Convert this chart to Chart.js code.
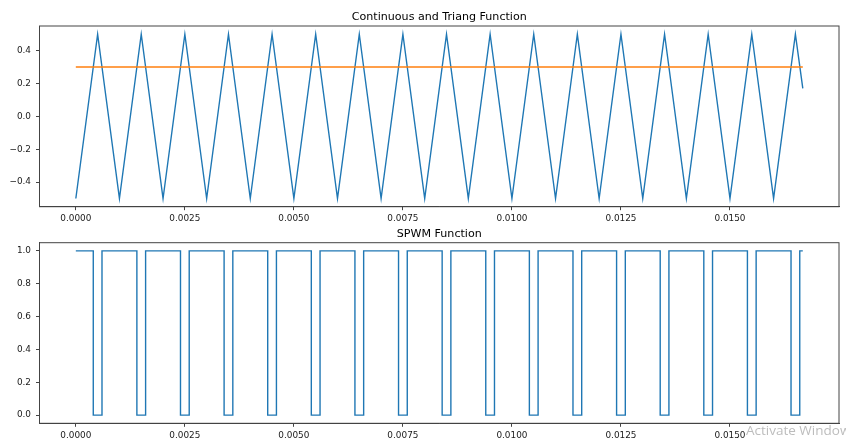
<!DOCTYPE html>
<html>
<head>
<meta charset="utf-8">
<script src="https://cdn.jsdelivr.net/npm/chart.js@4"></script>
<style>
  html, body { margin: 0; padding: 0; background: #fff; }
  #wrap { position: relative; width: 846px; height: 443px; overflow: hidden; background: #fff; }
  canvas { position: absolute; left: 0; top: 0; }
  #wm { position: absolute; left: 746px; top: 421px; font-family: "Open Sans", "Noto Sans", sans-serif; font-size: 13.5px; color: #bdbdbd; white-space: nowrap; }
</style>
</head>
<body>
<div id="wrap">
  <canvas id="c1" width="846" height="443"></canvas>
  <canvas id="c2" width="846" height="443"></canvas>
  <div id="wm">Activate Windows</div>
</div>
<script>
// ---- Data ----
const titleTop = "Continuous and Triang Function";
const titleBottom = "SPWM Function";

// Triangular carrier: vertex times (s) and values
const triTimes = [0, 0.0005, 0.001, 0.0015, 0.002, 0.0025, 0.003, 0.0035, 0.004, 0.0045,
  0.005, 0.0055, 0.006, 0.0065, 0.007, 0.0075, 0.008, 0.0085, 0.009, 0.0095,
  0.01, 0.0105, 0.011, 0.0115, 0.012, 0.0125, 0.013, 0.0135, 0.014, 0.0145,
  0.015, 0.0155, 0.016, 0.0165, 0.01667];
const triValues = [-0.5, 0.5, -0.5, 0.5, -0.5, 0.5, -0.5, 0.5, -0.5, 0.5,
  -0.5, 0.5, -0.5, 0.5, -0.5, 0.5, -0.5, 0.5, -0.5, 0.5,
  -0.5, 0.5, -0.5, 0.5, -0.5, 0.5, -0.5, 0.5, -0.5, 0.5,
  -0.5, 0.5, -0.5, 0.5, 0.17];

// Continuous reference level
const refTimes = [0, 0.01667];
const refValues = [0.3, 0.3];

// SPWM output: transition times and new level after each transition
const spwmTimes = [0,
  0.0004, 0.0006, 0.0014, 0.0016, 0.0024, 0.0026, 0.0034, 0.0036,
  0.0044, 0.0046, 0.0054, 0.0056, 0.0064, 0.0066, 0.0074, 0.0076,
  0.0084, 0.0086, 0.0094, 0.0096, 0.0104, 0.0106, 0.0114, 0.0116,
  0.0124, 0.0126, 0.0134, 0.0136, 0.0144, 0.0146, 0.0154, 0.0156,
  0.0164, 0.0166, 0.01667];
const spwmValues = [1,
  0, 1, 0, 1, 0, 1, 0, 1,
  0, 1, 0, 1, 0, 1, 0, 1,
  0, 1, 0, 1, 0, 1, 0, 1,
  0, 1, 0, 1, 0, 1, 0, 1,
  0, 1, 1];

// Tick values and labels
const xTickValues = [0, 0.0025, 0.005, 0.0075, 0.01, 0.0125, 0.015];
const xTickLabels = ["0.0000", "0.0025", "0.0050", "0.0075", "0.0100", "0.0125", "0.0150"];
const yTopTickValues = [-0.4, -0.2, 0.0, 0.2, 0.4];
const yTopTickLabels = ["\u22120.4", "\u22120.2", "0.0", "0.2", "0.4"];
const yBotTickValues = [0.0, 0.2, 0.4, 0.6, 0.8, 1.0];
const yBotTickLabels = ["0.0", "0.2", "0.4", "0.6", "0.8", "1.0"];

// ---- Styling / helpers ----
const BLUE = "#1f77b4", ORANGE = "#ff7f0e";
const TICK_FONT = { family: "DejaVu Sans", size: 8.9 };
const TITLE_FONT = { family: "DejaVu Sans", size: 11.1, weight: "normal" };
const AX_COLOR = "#444";
const LBL_COLOR = "#1a1a1a";

function pts(xs, ys) { return xs.map((x, i) => ({ x: x, y: ys[i] })); }

const framePlugin = {
  id: "frame",
  afterDraw(chart) {
    const a = chart.chartArea, ctx = chart.ctx;
    ctx.save();
    ctx.strokeStyle = AX_COLOR;
    ctx.lineWidth = 1;
    ctx.strokeRect(a.left, a.top, a.right - a.left, a.bottom - a.top);
    ctx.restore();
  }
};

function xScale(h) {
  return {
    type: "linear",
    min: -0.000833,
    max: 0.0175,
    afterBuildTicks(s) { s.ticks = xTickValues.map(v => ({ value: v })); },
    afterFit(s) { s.height = h; },
    ticks: {
      font: TICK_FONT, color: LBL_COLOR, padding: 3.5, maxRotation: 0, autoSkip: false,
      callback: (v, i) => xTickLabels[i]
    },
    grid: { display: true, drawOnChartArea: false, drawTicks: true, tickLength: 3.5, tickColor: AX_COLOR, tickWidth: 1 },
    border: { display: true, color: AX_COLOR, width: 1 }
  };
}
function yScale(min, max, vals, labels) {
  return {
    type: "linear",
    min: min, max: max,
    afterBuildTicks(s) { s.ticks = vals.map(v => ({ value: v })); },
    afterFit(s) { s.width = 39.5; },
    ticks: {
      font: TICK_FONT, color: LBL_COLOR, padding: 5, autoSkip: false,
      callback: (v, i) => labels[i]
    },
    grid: { display: true, drawOnChartArea: false, drawTicks: true, tickLength: 3.5, tickColor: AX_COLOR, tickWidth: 1 },
    border: { display: true, color: AX_COLOR, width: 1 }
  };
}

const common = {
  responsive: false,
  animation: false,
  devicePixelRatio: 1,
  events: [],
  elements: { point: { radius: 0 }, line: { tension: 0 } }
};

new Chart(document.getElementById("c1"), {
  type: "line",
  data: {
    datasets: [
      { data: pts(triTimes, triValues), borderColor: BLUE, borderWidth: 1.4, fill: false, order: 1 },
      { data: pts(refTimes, refValues), borderColor: ORANGE, borderWidth: 1.4, fill: false, order: 0 }
    ]
  },
  options: Object.assign({}, common, {
    layout: { padding: { left: 0, right: 7, top: 0, bottom: 216.3 } },
    plugins: {
      legend: { display: false },
      tooltip: { enabled: false },
      title: { display: true, fullSize: false, text: titleTop, font: TITLE_FONT, color: "#000", padding: { top: 10.5, bottom: 2.18 } }
    },
    scales: { x: xScale(20), y: yScale(-0.55, 0.55, yTopTickValues, yTopTickLabels) }
  }),
  plugins: [framePlugin]
});

new Chart(document.getElementById("c2"), {
  type: "line",
  data: {
    datasets: [
      { data: pts(spwmTimes, spwmValues), borderColor: BLUE, borderWidth: 1.4, fill: false, stepped: true }
    ]
  },
  options: Object.assign({}, common, {
    layout: { padding: { left: 0, right: 7, top: 216.6, bottom: 0 } },
    plugins: {
      legend: { display: false },
      tooltip: { enabled: false },
      title: { display: true, fullSize: false, text: titleBottom, font: TITLE_FONT, color: "#000", padding: { top: 10.5, bottom: 2.28 } }
    },
    scales: { x: xScale(19.7), y: yScale(-0.05, 1.05, yBotTickValues, yBotTickLabels) }
  }),
  plugins: [framePlugin]
});
</script>
</body>
</html>
